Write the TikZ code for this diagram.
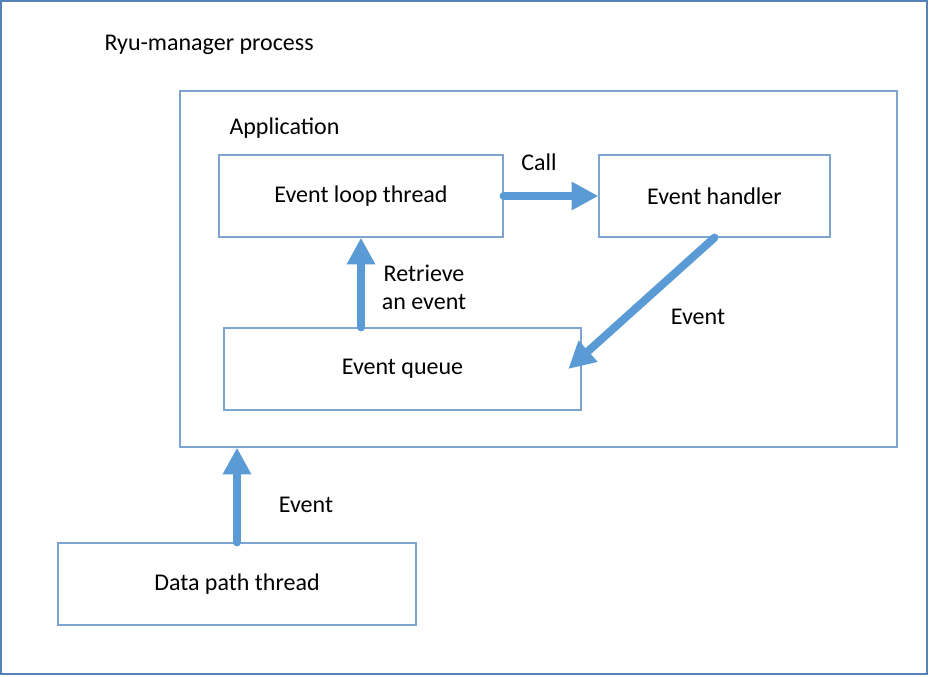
\documentclass[tikz,border=0pt]{standalone}
\usepackage{fontspec}
\setmainfont{Carlito}
\usetikzlibrary{arrows.meta}

\definecolor{framecol}{RGB}{84,130,185}
\definecolor{boxcol}{RGB}{126,164,210}
\definecolor{arrowcol}{RGB}{91,155,213}

\tikzset{every picture/.style={line width=0.75pt}}
\tikzset{
  box/.style={draw=boxcol, line width=0.9pt, inner sep=0pt, font=\fontsize{18}{21}\selectfont},
  lbl/.style={inner sep=0.75pt, font=\fontsize{18}{21}\selectfont, align=center},
  bigarrow/.style={draw=arrowcol, line width=6pt, line cap=round, -{Triangle[length=20pt,width=20pt]}}
}

\begin{document}
\begin{tikzpicture}[x=0.75pt,y=0.75pt,yscale=-1,xscale=1]
\useasboundingbox (0,0) rectangle (929,676);

%Outer frame
\draw [draw=framecol, line width=1.2pt] (1,1) rectangle (927,674) ;
% Text Node
\draw (103,45) node [lbl, anchor=west] (ryu) {Ryu-manager process};

%Application box
\draw (538.5,269) node [box, minimum width=537.75pt, minimum height=267pt] (app) {};
% Text Node
\draw (228,128) node [lbl, anchor=west] (applbl) {Application};

%Boxes
\draw (361,196) node [box, minimum width=213pt, minimum height=61.5pt] (evloop) {Event loop thread};
\draw (714.5,196) node [box, minimum width=173.25pt, minimum height=61.5pt] (handler) {Event handler};
\draw (402.5,369) node [box, minimum width=267.75pt, minimum height=61.5pt] (queue) {Event queue};
\draw (237,584) node [box, minimum width=268.5pt, minimum height=61.5pt] (datapath) {Data path thread};

%Arrows
\draw [bigarrow] (evloop.east) -- (handler.west) ;
\draw [bigarrow] (handler.south) -- ([xshift=-10pt]queue.east) ;
\draw [bigarrow] (queue.north -| evloop.south) -- (evloop.south) ;
\draw [bigarrow] (datapath.north) -- (datapath.north |- app.south) ;

% Text Node
\draw (539,162) node [lbl] (calllbl) {Call};
% Text Node
\draw (698,317) node [lbl] (evlbl1) {Event};
% Text Node
\draw (424,287) node [lbl] (retrlbl) {Retrieve\\an event};
% Text Node
\draw (306,505) node [lbl] (evlbl2) {Event};
\end{tikzpicture}
\end{document}
